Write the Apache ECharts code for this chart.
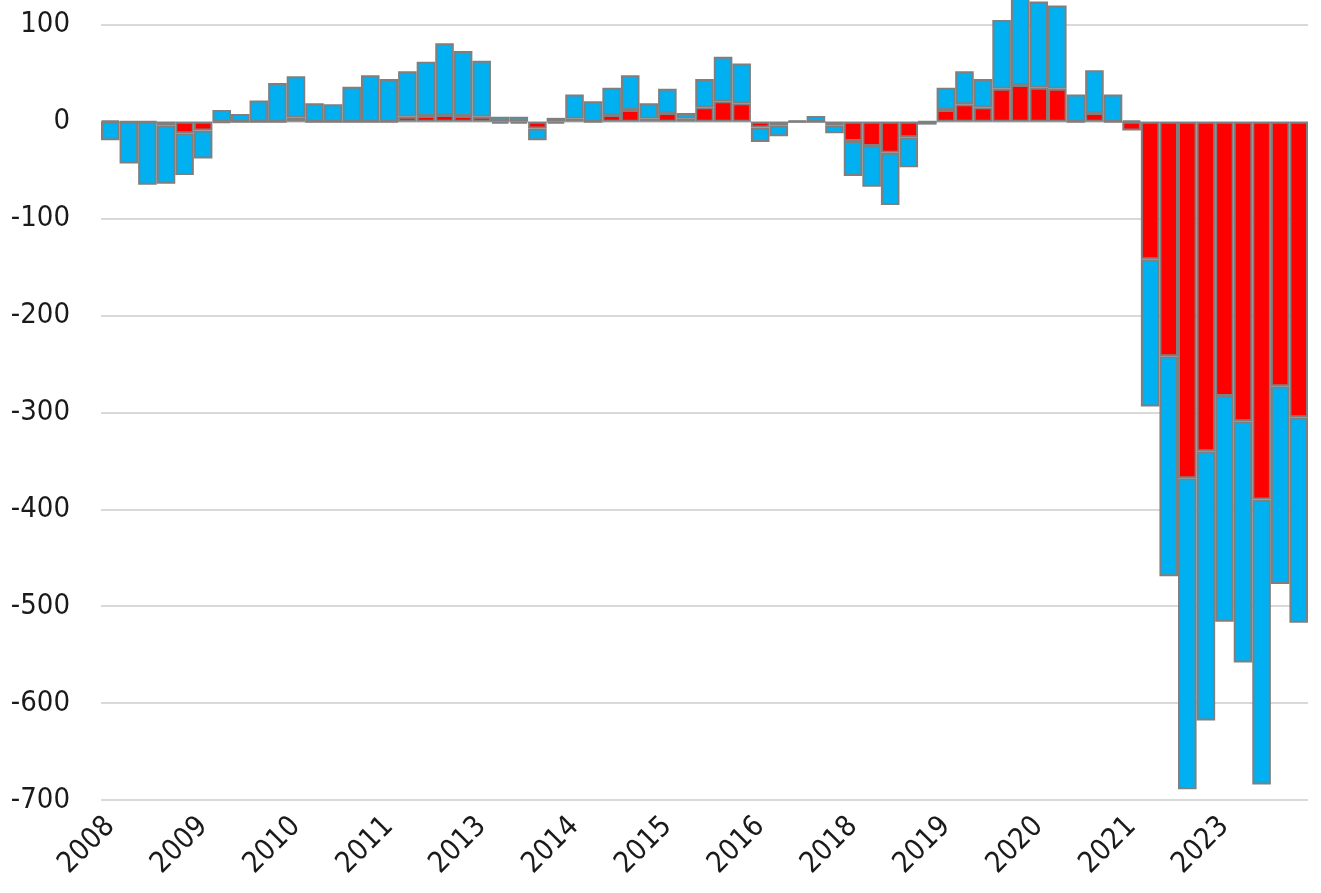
<!DOCTYPE html>
<html>
<head>
<meta charset="utf-8">
<title>chart</title>
<script src="https://cdn.jsdelivr.net/npm/echarts@6.0.0/dist/echarts.min.js"></script>
<style>
  html, body { margin: 0; padding: 0; background: #fff; }
  #chart { width: 1321px; height: 893px; }
</style>
</head>
<body>
<div id="chart"></div>
<script>
// quarterly, 2008Q1 .. 2024Q1
var quarters = [
  '2008Q1', '2008Q2', '2008Q3', '2008Q4', '2009Q1', '2009Q2', '2009Q3', '2009Q4',
  '2010Q1', '2010Q2', '2010Q3', '2010Q4', '2011Q1', '2011Q2', '2011Q3', '2011Q4',
  '2012Q1', '2012Q2', '2012Q3', '2012Q4', '2013Q1', '2013Q2', '2013Q3', '2013Q4',
  '2014Q1', '2014Q2', '2014Q3', '2014Q4', '2015Q1', '2015Q2', '2015Q3', '2015Q4',
  '2016Q1', '2016Q2', '2016Q3', '2016Q4', '2017Q1', '2017Q2', '2017Q3', '2017Q4',
  '2018Q1', '2018Q2', '2018Q3', '2018Q4', '2019Q1', '2019Q2', '2019Q3', '2019Q4',
  '2020Q1', '2020Q2', '2020Q3', '2020Q4', '2021Q1', '2021Q2', '2021Q3', '2021Q4',
  '2022Q1', '2022Q2', '2022Q3', '2022Q4', '2023Q1', '2023Q2', '2023Q3', '2023Q4',
  '2024Q1'
];

var redValues = [
  1, 0, 0, -4, -12, -9, -1, 0,
  0, 0, 4, 0, 0, 0, 0, 0,
  5, 6, 7, 6, 5, -2, -2, -7,
  -2, 3, 0, 7, 12, 3, 9, 3,
  15, 21, 19, -6, -4, 0, 0, -4,
  -20, -25, -32, -16, 0, 12, 18, 15,
  34, 38, 35, 34, 0, 9, 0, -9,
  -142, -242, -368, -340, -283, -309, -390, -273,
  -305
];

var blueValues = [
  -19, -43, -65, -60, -43, -29, 12, 8,
  22, 40, 43, 19, 18, 36, 48, 44,
  47, 56, 74, 67, 58, 5, 5, -12,
  4, 25, 21, 28, 36, 16, 25, 6,
  29, 46, 41, -15, -11, 1, 6, -8,
  -36, -42, -54, -31, -3, 23, 34, 29,
  71, 90, 89, 86, 28, 44, 28, 1,
  -152, -227, -321, -278, -233, -249, -294, -204,
  -212
];

var yMin = -700;
var yMax = 138;

var labelFont = "'DejaVu Sans Condensed', 'Liberation Sans', sans-serif";

var chart = echarts.init(document.getElementById('chart'));

chart.setOption({
  animation: false,
  backgroundColor: '#ffffff',
  textStyle: { fontFamily: labelFont },
  grid: {
    left: 101,
    right: 13,
    top: -12,
    bottom: 93,
    containLabel: false,
    outerBoundsMode: 'none'
  },
  xAxis: {
    type: 'category',
    data: quarters,
    axisLine: { show: false, onZero: false },
    axisTick: { show: false },
    axisLabel: {
      interval: 4,
      rotate: 45,
      margin: 22,
      fontSize: 29,
      color: '#1a1a1a',
      fontFamily: labelFont,
      formatter: function (v) { return v.slice(0, 4); }
    },
    splitLine: { show: false }
  },
  yAxis: {
    type: 'value',
    min: yMin,
    max: yMax,
    interval: 100,
    axisLine: { show: false },
    axisTick: { show: false },
    axisLabel: {
      showMaxLabel: false,
      margin: 31,
      fontSize: 29,
      color: '#1a1a1a',
      fontFamily: labelFont
    },
    splitLine: { lineStyle: { color: '#d9d9d9', width: 2 } }
  },
  series: [
    {
      name: 'red',
      type: 'bar',
      stack: 'total',
      barCategoryGap: '0%',
      data: redValues,
      itemStyle: { color: '#ff0000', borderColor: '#7f7f7f', borderWidth: 2 }
    },
    {
      name: 'blue',
      type: 'bar',
      stack: 'total',
      barCategoryGap: '0%',
      data: blueValues,
      itemStyle: { color: '#00b0f0', borderColor: '#7f7f7f', borderWidth: 2 }
    }
  ]
});
</script>
</body>
</html>
